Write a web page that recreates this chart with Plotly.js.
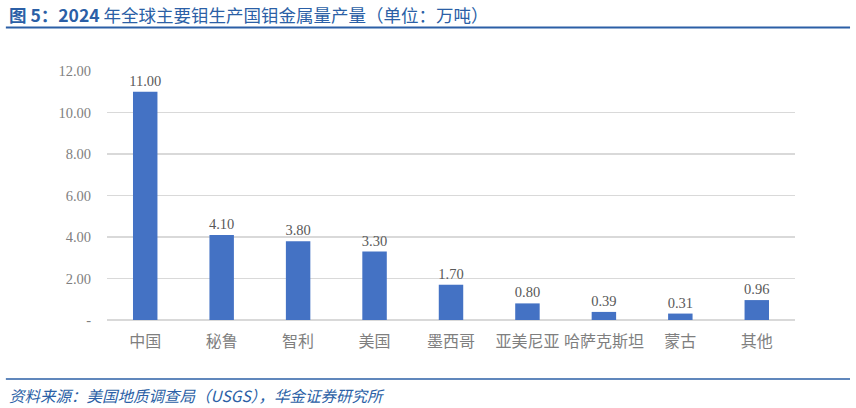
<!DOCTYPE html>
<html>
<head>
<meta charset="utf-8">
<script src="https://cdn.plot.ly/plotly-3.0.1.min.js"></script>
<style>
  html, body { margin: 0; padding: 0; background: #ffffff; }
  #chart { width: 856px; height: 408px; }
</style>
</head>
<body>
<div id="chart"></div>
<script>
// 2024年全球主要钼生产国钼金属量产量（万吨）
const countries = ['中国', '秘鲁', '智利', '美国', '墨西哥', '亚美尼亚', '哈萨克斯坦', '蒙古', '其他'];
const output = [11.00, 4.10, 3.80, 3.30, 1.70, 0.80, 0.39, 0.31, 0.96];
const yTicks = [0, 2, 4, 6, 8, 10, 12];
const yTickText = ['-', '2.00', '4.00', '6.00', '8.00', '10.00', '12.00'];

const TITLE_BLUE = '#2b5fa6';
const SERIF = "'Liberation Serif', 'Noto Sans CJK SC', serif";
const CJK = "'Noto Sans CJK SC', 'Liberation Sans', sans-serif";

const data = [{
    x: countries,
    y: output,
    type: 'bar',
    marker: { color: '#4472c4' },
    text: output.map(v => v.toFixed(2)),
    textposition: 'outside',
    constraintext: 'none',
    cliponaxis: false,
    textfont: { family: SERIF, size: 14.5, color: '#595959' },
    hoverinfo: 'skip'
}];

const layout = {
    width: 856,
    height: 408,
    margin: { t: 71, r: 61, b: 88, l: 107 },
    paper_bgcolor: '#ffffff',
    plot_bgcolor: '#ffffff',
    showlegend: false,
    bargap: 0.68,
    xaxis: {
        type: 'category',
        showgrid: false,
        showline: false,
        zeroline: false,
        ticks: '',
        ticklabelstandoff: 10,
        tickfont: { family: SERIF, size: 16, color: '#7f7f7f' }
    },
    yaxis: {
        range: [0, 12],
        tickvals: yTicks,
        ticktext: yTickText,
        showgrid: true,
        gridcolor: '#d9d9d9',
        gridwidth: 1.5,
        zeroline: true,
        zerolinecolor: '#d9d9d9',
        zerolinewidth: 1.5,
        showline: false,
        ticks: '',
        ticklabelstandoff: 15,
        tickfont: { family: SERIF, size: 14.5, color: '#7f7f7f' }
    },
    shapes: [
        { type: 'line', xref: 'paper', yref: 'paper', layer: 'above',
          x0: -0.147, x1: 1.08, y0: 1.175, y1: 1.175,
          line: { color: TITLE_BLUE, width: 2 } },
        { type: 'line', xref: 'paper', yref: 'paper', layer: 'above',
          x0: -0.147, x1: 1.08, y0: -0.237, y1: -0.237,
          line: { color: TITLE_BLUE, width: 1.5 } }
    ],
    annotations: [
        { xref: 'paper', yref: 'paper', x: -0.145, y: 1.225, xanchor: 'left', yanchor: 'middle',
          showarrow: false,
          text: '<b>图 5：2024</b> 年全球主要钼生产国钼金属量产量（单位：万吨）',
          font: { family: CJK, size: 17.5, color: TITLE_BLUE } },
        { xref: 'paper', yref: 'paper', x: -0.145, y: -0.301, xanchor: 'left', yanchor: 'middle',
          showarrow: false,
          text: '资料来源：美国地质调查局（USGS），华金证券研究所',
          font: { family: CJK, size: 15.5, color: TITLE_BLUE, style: 'italic' } }
    ]
};

Plotly.newPlot('chart', data, layout, { displayModeBar: false, staticPlot: true });
</script>
</body>
</html>
